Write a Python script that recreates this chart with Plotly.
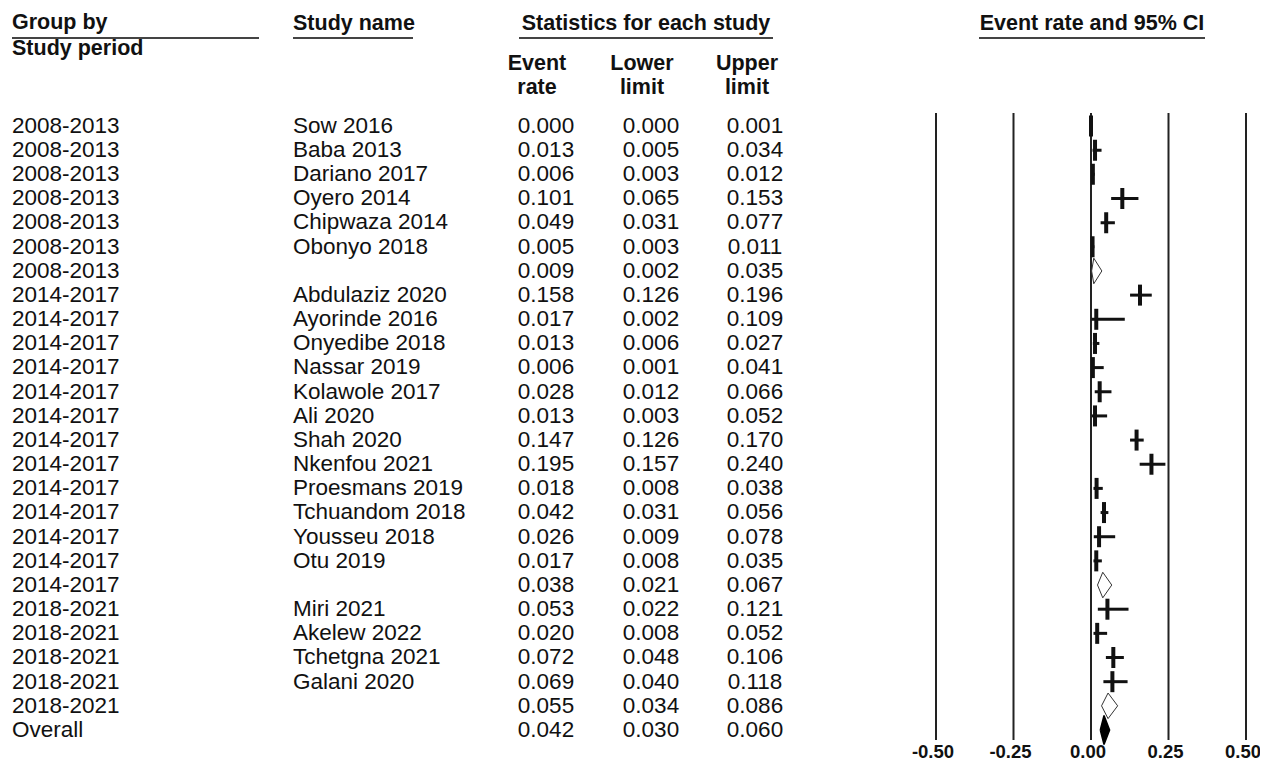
import plotly.graph_objects as go

# ---------------- data ----------------
periods = ["2008-2013"] * 7 + ["2014-2017"] * 13 + ["2018-2021"] * 5 + ["Overall"]
studies = ["Sow 2016", "Baba 2013", "Dariano 2017", "Oyero 2014", "Chipwaza 2014", "Obonyo 2018", "",
           "Abdulaziz 2020", "Ayorinde 2016", "Onyedibe 2018", "Nassar 2019", "Kolawole 2017", "Ali 2020",
           "Shah 2020", "Nkenfou 2021", "Proesmans 2019", "Tchuandom 2018", "Yousseu 2018", "Otu 2019", "",
           "Miri 2021", "Akelew 2022", "Tchetgna 2021", "Galani 2020", "", ""]
event_rate = [0.000, 0.013, 0.006, 0.101, 0.049, 0.005, 0.009,
              0.158, 0.017, 0.013, 0.006, 0.028, 0.013, 0.147, 0.195, 0.018, 0.042, 0.026, 0.017, 0.038,
              0.053, 0.020, 0.072, 0.069, 0.055, 0.042]
lower_limit = [0.000, 0.005, 0.003, 0.065, 0.031, 0.003, 0.002,
               0.126, 0.002, 0.006, 0.001, 0.012, 0.003, 0.126, 0.157, 0.008, 0.031, 0.009, 0.008, 0.021,
               0.022, 0.008, 0.048, 0.040, 0.034, 0.030]
upper_limit = [0.001, 0.034, 0.012, 0.153, 0.077, 0.011, 0.035,
               0.196, 0.109, 0.027, 0.041, 0.066, 0.052, 0.170, 0.240, 0.038, 0.056, 0.078, 0.035, 0.067,
               0.121, 0.052, 0.106, 0.118, 0.086, 0.060]
row_kind = ["study"] * 6 + ["subgroup"] + ["study"] * 12 + ["subgroup"] + ["study"] * 4 + ["subgroup", "overall"]
tick_vals = [-0.50, -0.25, 0.00, 0.25, 0.50]
tick_text = [f"{v:.2f}" for v in tick_vals]

# ---------------- layout helpers ----------------
W, H = 1268, 763
OFF = 8                      # page body margin of the html page
ROW0_PX, ROW_PX = 126, 24.16
FONT = "Liberation Sans, Arial, sans-serif"
INK = "#111111"


def py(px):
    """convert a (screen) pixel row position to y-axis units"""
    return (px - ROW0_PX) / ROW_PX


def fx(px):
    """screen x pixel -> x2 axis units (figure pixels)"""
    return px - OFF


rows = list(range(len(periods)))
text_rows = [r + 1.2 / ROW_PX for r in rows]
fig = go.Figure()

# vertical reference lines of the forest panel
vx, vy = [], []
for t in tick_vals:
    vx += [t, t, None]
    vy += [py(113), py(740), None]
fig.add_trace(go.Scatter(x=vx, y=vy, mode="lines", line=dict(color="#222", width=2),
                         hoverinfo="skip", showlegend=False))

# study CI lines + point ticks
sx, sy, px_, py_ = [], [], [], []
for i, k in enumerate(row_kind):
    if k == "study":
        sx += [lower_limit[i], upper_limit[i], None]
        sy += [i, i, None]
        px_.append(event_rate[i])
        py_.append(i)
fig.add_trace(go.Scatter(x=sx, y=sy, mode="lines", line=dict(color=INK, width=3),
                         hoverinfo="skip", showlegend=False))
fig.add_trace(go.Scatter(x=px_, y=py_, mode="markers",
                         marker=dict(symbol="line-ns", size=15, line=dict(color=INK, width=4)),
                         hoverinfo="skip", showlegend=False))

# diamonds
dx, dy, ox, oy = [], [], [], []
for i, k in enumerate(row_kind):
    if k == "subgroup":
        h = 0.53
        dx += [lower_limit[i], event_rate[i], upper_limit[i], event_rate[i], lower_limit[i], None]
        dy += [i, i - h, i, i + h, i, None]
    elif k == "overall":
        h = 0.6
        ox += [lower_limit[i], event_rate[i], upper_limit[i], event_rate[i], lower_limit[i]]
        oy += [i, i - h, i, i + h, i]
fig.add_trace(go.Scatter(x=dx, y=dy, mode="lines", fill="toself", fillcolor="white",
                         line=dict(color="#333", width=1), hoverinfo="skip", showlegend=False))
fig.add_trace(go.Scatter(x=ox, y=oy, mode="lines", fill="toself", fillcolor="black",
                         line=dict(color="black", width=1.5), hoverinfo="skip", showlegend=False))

# ---------------- table text ----------------
FS = 22.5
cols = [
    (12, [p for p in periods], "middle right"),
    (293, studies, "middle right"),
    (546, [f"{v:.3f}" for v in event_rate], "middle center"),
    (651, [f"{v:.3f}" for v in lower_limit], "middle center"),
    (755, [f"{v:.3f}" for v in upper_limit], "middle center"),
]
for x0, txt, pos in cols:
    fig.add_trace(go.Scatter(x=[fx(x0)] * len(txt), y=text_rows, text=txt, mode="text", textposition=pos,
                             textfont=dict(family=FONT, size=FS, color=INK), xaxis="x2",
                             hoverinfo="skip", showlegend=False, cliponaxis=False))

# header text
hdr = [
    (12, 24, "Group by", "middle right"),
    (12, 50, "Study period", "middle right"),
    (293, 25, "Study name", "middle right"),
    (646, 25, "Statistics for each study", "middle center"),
    (537, 65, "Event", "middle center"),
    (537, 89, "rate", "middle center"),
    (642, 65, "Lower", "middle center"),
    (642, 89, "limit", "middle center"),
    (747, 65, "Upper", "middle center"),
    (747, 89, "limit", "middle center"),
    (1092, 25, "Event rate and 95% CI", "middle center"),
]
for x0, y0, t, pos in hdr:
    fig.add_trace(go.Scatter(x=[fx(x0)], y=[py(y0)], text=[f"<b>{t}</b>"], mode="text", textposition=pos,
                             textfont=dict(family=FONT, size=FS - 1, color=INK), xaxis="x2",
                             hoverinfo="skip", showlegend=False, cliponaxis=False))

# header underlines
for a, b in [(12, 259), (293, 413), (519, 773), (979, 1205)]:
    fig.add_shape(type="line", xref="x2", yref="y", x0=fx(a), x1=fx(b), y0=py(38), y1=py(38),
                  line=dict(color="#444", width=2))

fig.update_layout(
    width=W, height=H,
    margin=dict(l=0, r=0, t=0, b=0, autoexpand=False),
    paper_bgcolor="white", plot_bgcolor="rgba(0,0,0,0)",
    xaxis=dict(domain=[(920.5 - OFF) / W, (1261.5 - OFF) / W], range=[-0.55, 0.55], anchor="free",
               position=(H - (738 - OFF)) / H, tickvals=tick_vals, ticktext=tick_text,
               ticklabelshift=-3,
               showgrid=False, zeroline=False, showline=False, ticks="",
               tickfont=dict(family=FONT, size=18.5, color=INK, weight="bold")),
    xaxis2=dict(domain=[0, 1], range=[0, W], visible=False, anchor="y"),
    yaxis=dict(range=[py(H + OFF), py(OFF)], domain=[0, 1], visible=False),
)
fig.write_html("out.html")
